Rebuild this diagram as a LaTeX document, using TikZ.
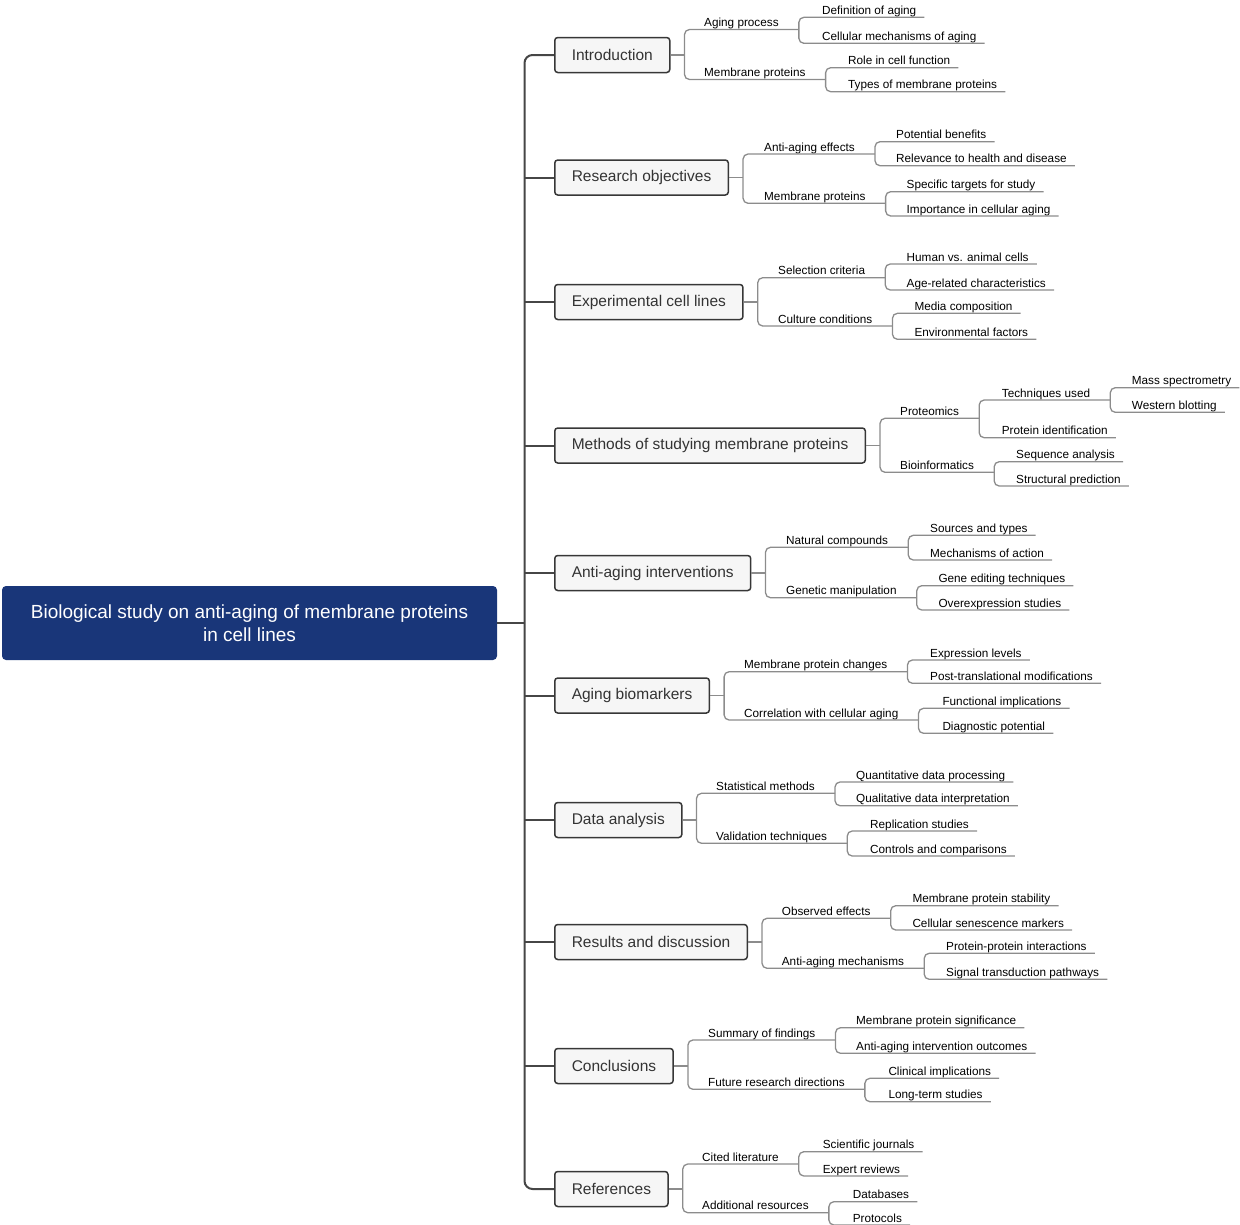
\documentclass[tikz,border=0pt]{standalone}
\usepackage{fontspec}
\setmainfont{Liberation Sans}
\definecolor{rootblue}{RGB}{25,54,121}
\definecolor{boxborder}{RGB}{55,55,55}
\definecolor{boxfill}{RGB}{246,246,246}
\definecolor{boxtext}{RGB}{51,51,51}
\definecolor{brgray}{RGB}{140,140,140}
\definecolor{trunkgray}{RGB}{70,70,70}
\newcommand\mmleaf[1]{\coordinate (#1e) at ([xshift=8pt,yshift=-3pt]#1.base east);}
\newcommand\mmpar[1]{\coordinate (#1e) at ([xshift=20pt,yshift=-3pt]#1.base east);}
\newcommand\mmbr[3]{\draw[br] (#2e) -- (#1e |- #2e) -- (#1e |- #3e) -- (#3e);}
\newcommand\mmjn[3]{\coordinate (#1j) at ([xshift=14pt]#1.east);
  \draw[br] (#1.east) -- (#1j);
  \draw[br] (#2e) -- (#1j |- #2e) -- (#1j |- #3e) -- (#3e);}
\begin{document}
\begin{tikzpicture}[x=1pt,y=-1pt,
  lbl/.style={inner sep=0pt, anchor=base west, font=\fontsize{11.75}{14}\selectfont, text=black},
  lone/.style={draw=boxborder, fill=boxfill, line width=1.5pt, rounded corners=3pt, anchor=west,
    minimum height=35pt, inner xsep=17pt, inner ysep=0pt, font=\fontsize{15.5}{18}\selectfont, text=boxtext},
  rootbox/.style={fill=rootblue, text=white, rounded corners=4pt, minimum width=495pt, minimum height=74pt,
    inner sep=0pt, align=center, font=\fontsize{19}{23}\selectfont},
  br/.style={draw=brgray, line width=1.3pt, rounded corners=5pt},
  trunk/.style={draw=trunkgray, line width=2pt}]
\useasboundingbox (0,0) rectangle (1240,1224);

\node[rootbox] (root) at (249.5,623) {Biological study on anti-aging of membrane proteins\\in cell lines};

% level 1 boxes
\node[lone] (g1) at (554,55) {Introduction};
\node[lone] (g2) at (554,177.5) {Research objectives};
\node[lone] (g3) at (554,302) {Experimental cell lines};
\node[lone] (g4) at (554,445.5) {Methods of studying membrane proteins};
\node[lone] (g5) at (554,573) {Anti-aging interventions};
\node[lone] (g6) at (554,695.5) {Aging biomarkers};
\node[lone] (g7) at (554,820) {Data analysis};
\node[lone] (g8) at (554,942) {Results and discussion};
\node[lone] (g9) at (554,1066) {Conclusions};
\node[lone] (g10) at (554,1189) {References};

% group 1
\node[lbl] (g1a) at (704,26.5) {Aging process};
\node[lbl] (g1a1) at (822,14.3) {Definition of aging};
\node[lbl] (g1a2) at (822,40.3) {Cellular mechanisms of aging};
\node[lbl] (g1b) at (704,76.5) {Membrane proteins};
\node[lbl] (g1b1) at (848,64.7) {Role in cell function};
\node[lbl] (g1b2) at (848,88.7) {Types of membrane proteins};
% group 2
\node[lbl] (g2a) at (764,151) {Anti-aging effects};
\node[lbl] (g2a1) at (896,138.7) {Potential benefits};
\node[lbl] (g2a2) at (896,162.7) {Relevance to health and disease};
\node[lbl] (g2b) at (764,200.3) {Membrane proteins};
\node[lbl] (g2b1) at (906.5,188.7) {Specific targets for study};
\node[lbl] (g2b2) at (906.5,213) {Importance in cellular aging};
% group 3
\node[lbl] (g3a) at (778,274.7) {Selection criteria};
\node[lbl] (g3a1) at (906.5,261) {Human vs. animal cells};
\node[lbl] (g3a2) at (906.5,287) {Age-related characteristics};
\node[lbl] (g3b) at (778,323) {Culture conditions};
\node[lbl] (g3b1) at (914.3,310.3) {Media composition};
\node[lbl] (g3b2) at (914.3,336.3) {Environmental factors};
% group 4
\node[lbl] (g4a) at (900,415.3) {Proteomics};
\node[lbl] (g4a1) at (1001.7,397) {Techniques used};
\node[lbl] (g4a1a) at (1131.7,384.7) {Mass spectrometry};
\node[lbl] (g4a1b) at (1131.7,409.3) {Western blotting};
\node[lbl] (g4a2) at (1001.7,434.7) {Protein identification};
\node[lbl] (g4b) at (900,469.3) {Bioinformatics};
\node[lbl] (g4b1) at (1016,458.7) {Sequence analysis};
\node[lbl] (g4b2) at (1016,483) {Structural prediction};
% group 5
\node[lbl] (g5a) at (786,544.3) {Natural compounds};
\node[lbl] (g5a1) at (930,532.3) {Sources and types};
\node[lbl] (g5a2) at (930,557) {Mechanisms of action};
\node[lbl] (g5b) at (786,594.7) {Genetic manipulation};
\node[lbl] (g5b1) at (938.3,582.7) {Gene editing techniques};
\node[lbl] (g5b2) at (938.3,607) {Overexpression studies};
% group 6
\node[lbl] (g6a) at (744,668.7) {Membrane protein changes};
\node[lbl] (g6a1) at (930,657) {Expression levels};
\node[lbl] (g6a2) at (930,680.3) {Post-translational modifications};
\node[lbl] (g6b) at (744,717) {Correlation with cellular aging};
\node[lbl] (g6b1) at (942.3,705.3) {Functional implications};
\node[lbl] (g6b2) at (942.3,730.3) {Diagnostic potential};
% group 7
\node[lbl] (g7a) at (716,790.3) {Statistical methods};
\node[lbl] (g7a1) at (856,779) {Quantitative data processing};
\node[lbl] (g7a2) at (856,802.7) {Qualitative data interpretation};
\node[lbl] (g7b) at (716,840.3) {Validation techniques};
\node[lbl] (g7b1) at (870,828) {Replication studies};
\node[lbl] (g7b2) at (870,853) {Controls and comparisons};
% group 8
\node[lbl] (g8a) at (781.7,915.3) {Observed effects};
\node[lbl] (g8a1) at (912.3,902.7) {Membrane protein stability};
\node[lbl] (g8a2) at (912.3,927) {Cellular senescence markers};
\node[lbl] (g8b) at (781.7,965.3) {Anti-aging mechanisms};
\node[lbl] (g8b1) at (946,950.3) {Protein-protein interactions};
\node[lbl] (g8b2) at (946,976.3) {Signal transduction pathways};
% group 9
\node[lbl] (g9a) at (708,1037) {Summary of findings};
\node[lbl] (g9a1) at (856,1024.7) {Membrane protein significance};
\node[lbl] (g9a2) at (856,1050.3) {Anti-aging intervention outcomes};
\node[lbl] (g9b) at (708,1086.3) {Future research directions};
\node[lbl] (g9b1) at (888.3,1075.3) {Clinical implications};
\node[lbl] (g9b2) at (888.3,1098.7) {Long-term studies};
% group 10
\node[lbl] (g10a) at (702,1161) {Cited literature};
\node[lbl] (g10a1) at (822.7,1148.7) {Scientific journals};
\node[lbl] (g10a2) at (822.7,1173) {Expert reviews};
\node[lbl] (g10b) at (702,1209.7) {Additional resources};
\node[lbl] (g10b1) at (852.7,1198.7) {Databases};
\node[lbl] (g10b2) at (852.7,1222) {Protocols};

% end coordinates
\mmpar{g1a}\mmleaf{g1a1}\mmleaf{g1a2}\mmpar{g1b}\mmleaf{g1b1}\mmleaf{g1b2}
\mmpar{g2a}\mmleaf{g2a1}\mmleaf{g2a2}\mmpar{g2b}\mmleaf{g2b1}\mmleaf{g2b2}
\mmpar{g3a}\mmleaf{g3a1}\mmleaf{g3a2}\mmpar{g3b}\mmleaf{g3b1}\mmleaf{g3b2}
\mmpar{g4a}\mmpar{g4a1}\mmleaf{g4a1a}\mmleaf{g4a1b}\mmleaf{g4a2}\mmpar{g4b}\mmleaf{g4b1}\mmleaf{g4b2}
\mmpar{g5a}\mmleaf{g5a1}\mmleaf{g5a2}\mmpar{g5b}\mmleaf{g5b1}\mmleaf{g5b2}
\mmpar{g6a}\mmleaf{g6a1}\mmleaf{g6a2}\mmpar{g6b}\mmleaf{g6b1}\mmleaf{g6b2}
\mmpar{g7a}\mmleaf{g7a1}\mmleaf{g7a2}\mmpar{g7b}\mmleaf{g7b1}\mmleaf{g7b2}
\mmpar{g8a}\mmleaf{g8a1}\mmleaf{g8a2}\mmpar{g8b}\mmleaf{g8b1}\mmleaf{g8b2}
\mmpar{g9a}\mmleaf{g9a1}\mmleaf{g9a2}\mmpar{g9b}\mmleaf{g9b1}\mmleaf{g9b2}
\mmpar{g10a}\mmleaf{g10a1}\mmleaf{g10a2}\mmpar{g10b}\mmleaf{g10b1}\mmleaf{g10b2}

% connectors
\mmjn{g1}{g1a}{g1b}\mmbr{g1a}{g1a1}{g1a2}\mmbr{g1b}{g1b1}{g1b2}
\mmjn{g2}{g2a}{g2b}\mmbr{g2a}{g2a1}{g2a2}\mmbr{g2b}{g2b1}{g2b2}
\mmjn{g3}{g3a}{g3b}\mmbr{g3a}{g3a1}{g3a2}\mmbr{g3b}{g3b1}{g3b2}
\mmjn{g4}{g4a}{g4b}\mmbr{g4a}{g4a1}{g4a2}\mmbr{g4a1}{g4a1a}{g4a1b}\mmbr{g4b}{g4b1}{g4b2}
\mmjn{g5}{g5a}{g5b}\mmbr{g5a}{g5a1}{g5a2}\mmbr{g5b}{g5b1}{g5b2}
\mmjn{g6}{g6a}{g6b}\mmbr{g6a}{g6a1}{g6a2}\mmbr{g6b}{g6b1}{g6b2}
\mmjn{g7}{g7a}{g7b}\mmbr{g7a}{g7a1}{g7a2}\mmbr{g7b}{g7b1}{g7b2}
\mmjn{g8}{g8a}{g8b}\mmbr{g8a}{g8a1}{g8a2}\mmbr{g8b}{g8b1}{g8b2}
\mmjn{g9}{g9a}{g9b}\mmbr{g9a}{g9a1}{g9a2}\mmbr{g9b}{g9b1}{g9b2}
\mmjn{g10}{g10a}{g10b}\mmbr{g10a}{g10a1}{g10a2}\mmbr{g10b}{g10b1}{g10b2}

% trunk
\coordinate (T) at (524.5,0);
\draw[trunk, rounded corners=8pt] (g1.west) -- (T |- g1.west) -- (T |- g10.west) -- (g10.west);
\foreach \k in {2,...,9} {\draw[trunk] (T |- g\k.west) -- (g\k.west);}
\draw[trunk] (root.east) -- (T |- root.east);
\end{tikzpicture}
\end{document}
